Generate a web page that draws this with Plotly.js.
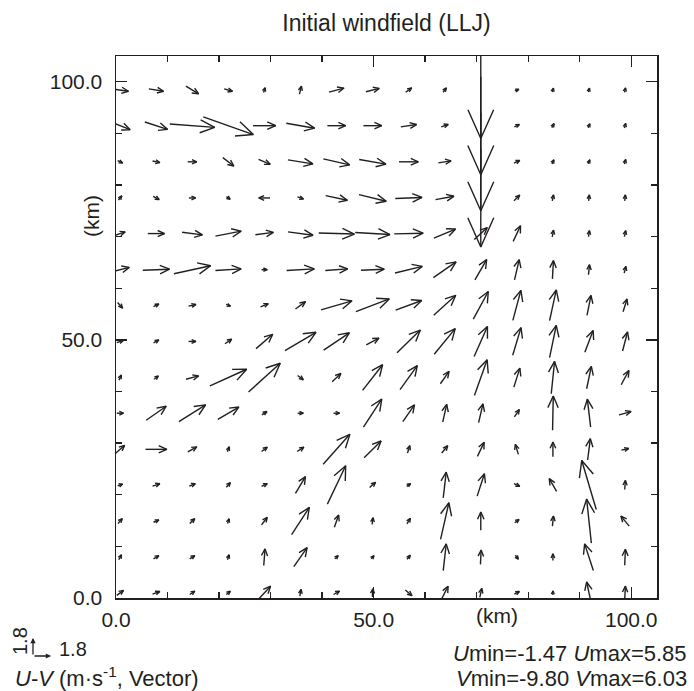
<!DOCTYPE html>
<html><head><meta charset="utf-8">
<script src="https://cdn.plot.ly/plotly-3.0.1.min.js"></script>
<style>html,body{margin:0;padding:0;background:#fff}</style>
</head><body>
<div id="chart" style="width:694px;height:691px"></div>
<script>
// grid coordinates (km)
const xGrid = [0.8,7.8,14.8,21.8,28.8,35.8,42.8,49.8,56.8,63.8,70.8,77.8,84.8,91.8,98.8];
const yGrid = [1.0,7.9,14.9,21.9,28.8,35.8,42.7,49.7,56.7,63.6,70.6,77.5,84.5,91.5,98.4];
// U, V (m/s); rows from bottom to top, columns west to east
const U = [
 [0.67,0.73,0.5,0.4,1.23,0.13,0.6,0.05,0.67,0.67,0.2,0.5,0.05,-0.47,0.07],
 [0.27,0.53,0.5,0.17,0.13,1.33,0.33,0.27,0.33,0.3,0.07,0.3,0,-0.87,0.07],
 [0.43,0.53,0.5,0.17,0.57,1.77,0.43,0.1,0.33,0.83,0,0.43,0.1,-0.47,-0.83],
 [0.5,0.73,0.6,0.4,0.57,1.0,1.83,0.6,0.4,0.3,0.73,0.57,-0.73,-1.45,0.07],
 [0.9,2.13,0.9,0.2,0.57,0.67,2.67,1.7,0.23,0.6,0.67,-0.3,0,0.27,0.73],
 [0.67,2.0,2.67,2.1,0.5,0.57,0.6,1.83,1.17,0.4,0.43,0.5,0.07,-0.33,1.2],
 [0.23,0.43,1.27,3.67,3.17,0.57,0.87,2.0,1.73,0.87,1.27,0.6,0.33,0.47,0.77],
 [0.67,0.53,0.73,0.67,1.67,3.1,2.57,1.27,2.33,2.1,1.33,0.83,0.67,0.83,0.5],
 [0.5,0.53,0.73,0.43,0.77,1.0,3.1,3.33,2.6,2.2,1.5,0.8,0.67,0.4,0.4],
 [1.83,2.67,3.67,2.57,0.57,2.77,2.23,2.33,2.73,2.27,1.17,0.47,0.1,0.1,0.17],
 [1.0,1.67,2.03,2.57,1.8,2.5,3.57,3.47,2.9,2.17,1.3,0.73,0.13,0.1,0.13],
 [0.33,0.6,0.67,0.37,-1.13,0.6,2.17,2.73,2.67,1.83,0,0.57,0.13,0.07,0.07],
 [0.5,0.73,0.9,1.1,1.17,2.5,2.63,2.67,1.93,1.27,0,0.57,0.2,0.17,0.13],
 [2.0,2.27,4.5,5.0,2.27,2.83,1.83,1.83,1.57,0.7,0,0.5,0.23,0.17,0.13],
 [1.67,1.47,1.27,0.83,0.17,0.2,1.5,1.33,0.6,0.33,0,0.4,0.1,0.1,0.1]
];
const V = [
 [0.5,0.27,0.33,0.33,1.33,0.67,0.33,0.8,-0.57,1.33,0.9,0.27,0.4,2.17,1.33],
 [0.5,0.33,0.33,0.5,1.67,1.9,0.33,0.33,0.4,2.67,1.43,-0.4,0.67,2.67,1.6],
 [0.5,0.23,0.47,0.47,0.77,2.73,1.23,0.67,0.57,3.67,1.83,0.33,1.0,4.4,1.0],
 [0.17,0.23,0.23,0.47,0.27,1.67,3.83,0.53,0.27,2.57,2.23,-0.27,1.27,4.9,0.9],
 [0.8,0,0.5,0.5,0.43,0.43,3.0,1.67,0.73,0.73,1.4,1.0,1.47,2.13,0.17],
 [0,1.4,1.67,1.23,0.33,0,0,2.8,1.67,1.77,1.87,0.73,3.43,2.8,0.33],
 [0.5,0.33,0.33,1.67,2.87,-0.43,0.83,2.57,2.4,1.23,3.57,1.9,3.23,2.23,1.43],
 [0.23,0.3,0,0.47,1.43,1.83,1.73,0.67,2.27,2.57,3.0,2.77,3.23,2.17,1.9],
 [-0.57,0.27,0.17,-0.17,0.33,0.73,0.9,1.27,0.97,2.0,2.77,3.0,3.07,2.0,1.27],
 [0.47,0.1,0.8,0.17,0,0.17,0.17,0.1,0.67,1.57,2.03,2.03,1.83,1.0,0.67],
 [0.33,0,-0.27,0.5,0.23,-0.33,-0.1,-0.2,0.07,0.9,1.2,1.57,0.67,0.6,0.6],
 [0.43,-0.33,0,-0.27,0,-0.2,-0.47,-0.67,0.1,0.33,-9.8,0.57,0.6,0.6,0.6],
 [-0.23,-0.17,0,-0.83,-0.5,-0.4,-0.6,-0.47,0,0.2,-9.8,0.27,0.4,0.4,0.47],
 [-0.8,-0.73,-0.33,-1.77,0,-0.5,0,0,0.23,0.23,-9.8,0.23,0.4,0.4,0.47],
 [-0.23,-0.23,-0.77,-0.23,0.47,0.8,0.4,0.33,0.43,0.43,-9.7,0.15,0.4,0.4,0.45]
];
const xTickVals = [0,50,100];
const xTickText = ['0.0','50.0','100.0'];
const yTickVals = [0,50,100];
const yTickText = ['0.0','50.0','100.0'];
const minorTicks = [10,20,30,40,60,70,80,90];
const refSpeed = 1.8;
const statsU = 'Umin=-1.47 Umax=5.85';
const statsV = 'Vmin=-9.80 Vmax=6.03';

const W = 694, H = 691, ML = 116, MR = 37, MT = 56, MB = 93;
const PW = W - ML - MR, PH = H - MT - MB;
const XR = [0, 105], YR = [0, 105];
const kx = PW / (XR[1] - XR[0]), ky = PH / (YR[1] - YR[0]);
const PX_PER_MS = 10;
const INK = '#231f20';
const FONT = 'Liberation Sans, Arial, Helvetica, sans-serif';

const ax = [], ay = [];
function addArrow(xc, yc, u, v) {
  const dx = u * PX_PER_MS, dy = v * PX_PER_MS;
  const L = Math.hypot(dx, dy);
  if (L < 0.3) return;
  const ex = dx / L, ey = dy / L;
  const tx = -dx / 2, ty = -dy / 2, hx = dx / 2, hy = dy / 2;
  const b = 0.3 * L + 2.5, a = 24 * Math.PI / 180;
  const bx = -ex, by = -ey;
  const b1x = hx + b * (bx * Math.cos(a) - by * Math.sin(a));
  const b1y = hy + b * (bx * Math.sin(a) + by * Math.cos(a));
  const b2x = hx + b * (bx * Math.cos(-a) - by * Math.sin(-a));
  const b2y = hy + b * (bx * Math.sin(-a) + by * Math.cos(-a));
  const X = p => xc + p / kx, Y = p => yc + p / ky;
  ax.push(X(tx), X(hx), null, X(b1x), X(hx), X(b2x), null);
  ay.push(Y(ty), Y(hy), null, Y(b1y), Y(hy), Y(b2y), null);
}
for (let j = 0; j < yGrid.length; j++)
  for (let i = 0; i < xGrid.length; i++)
    addArrow(xGrid[i], yGrid[j], U[j][i], V[j][i]);

const trace = {
  type: 'scatter', mode: 'lines', x: ax, y: ay,
  line: {color: INK, width: 1.4}, hoverinfo: 'skip', connectgaps: false
};

const pxX = p => (p - ML) / PW;
const pxY = p => (MT + PH - p) / PH;
const refLen = refSpeed * PX_PER_MS;
const cx = 33, cy = 656;

const axisCommon = {
  showline: true, linecolor: INK, linewidth: 1.5, mirror: 'allticks',
  ticks: 'inside', ticklen: 11, tickwidth: 1.3, tickcolor: INK,
  showgrid: false, zeroline: false,
  tickfont: {family: FONT, size: 21, color: INK},
  minor: {tickvals: minorTicks, ticks: 'inside', ticklen: 6, tickwidth: 1.3, tickcolor: INK, showgrid: false},
  fixedrange: true
};

const layout = {
  width: W, height: H,
  margin: {l: ML, r: MR, t: MT, b: MB},
  paper_bgcolor: '#fff', plot_bgcolor: '#fff',
  showlegend: false,
  font: {family: FONT, color: INK},
  title: {text: 'Initial windfield (LLJ)', x: 0.5, xref: 'paper', y: 1 - 23 / H, yref: 'container', yanchor: 'middle',
          font: {family: FONT, size: 23, color: INK}},
  xaxis: Object.assign({}, axisCommon, {range: XR, tickvals: xTickVals, ticktext: xTickText, ticklabelstandoff: 2}),
  yaxis: Object.assign({}, axisCommon, {range: YR, tickvals: yTickVals, ticktext: yTickText, ticklabelstandoff: 8}),
  annotations: [
    {text: '(km)', xref: 'x', x: 74, yref: 'paper', y: pxY(615), yanchor: 'middle', xanchor: 'center', showarrow: false,
     font: {family: FONT, size: 21, color: INK}},
    {text: '(km)', xref: 'paper', x: pxX(91), yref: 'y', y: 74, textangle: -90, xanchor: 'center', yanchor: 'middle', showarrow: false,
     font: {family: FONT, size: 21, color: INK}},
    // reference vector legend
    {text: '', xref: 'paper', yref: 'paper', x: pxX(cx), y: pxY(cy - refLen), ax: 0, ay: refLen, axref: 'pixel', ayref: 'pixel',
     showarrow: true, arrowhead: 2, arrowsize: 0.8, arrowwidth: 1.3, arrowcolor: INK, standoff: 0, startstandoff: 0},
    {text: '', xref: 'paper', yref: 'paper', x: pxX(cx + refLen), y: pxY(cy), ax: -refLen, ay: 0, axref: 'pixel', ayref: 'pixel',
     showarrow: true, arrowhead: 2, arrowsize: 0.8, arrowwidth: 1.3, arrowcolor: INK, standoff: 0, startstandoff: 0},
    {text: refSpeed.toFixed(1), xref: 'paper', yref: 'paper', x: pxX(20), y: pxY(641), textangle: -90,
     xanchor: 'center', yanchor: 'middle', showarrow: false, font: {family: FONT, size: 20, color: INK}},
    {text: refSpeed.toFixed(1), xref: 'paper', yref: 'paper', x: pxX(57), y: pxY(649),
     xanchor: 'left', yanchor: 'middle', showarrow: false, font: {family: FONT, size: 20, color: INK}},
    {text: '<i>U</i>-<i>V</i> (m·s<sup>-1</sup>, Vector)', xref: 'paper', yref: 'paper', x: pxX(13), y: pxY(677),
     xanchor: 'left', yanchor: 'middle', showarrow: false, font: {family: FONT, size: 22, color: INK}},
    {text: statsU.replace(/U/g, '<i>U</i>'), xref: 'paper', yref: 'paper', x: pxX(689), y: pxY(653),
     xanchor: 'right', yanchor: 'middle', showarrow: false, font: {family: FONT, size: 22, color: INK}},
    {text: statsV.replace(/V/g, '<i>V</i>'), xref: 'paper', yref: 'paper', x: pxX(689), y: pxY(678),
     xanchor: 'right', yanchor: 'middle', showarrow: false, font: {family: FONT, size: 22, color: INK}}
  ]
};

Plotly.newPlot('chart', [trace], layout, {displayModeBar: false, staticPlot: true});
</script>
</body></html>
